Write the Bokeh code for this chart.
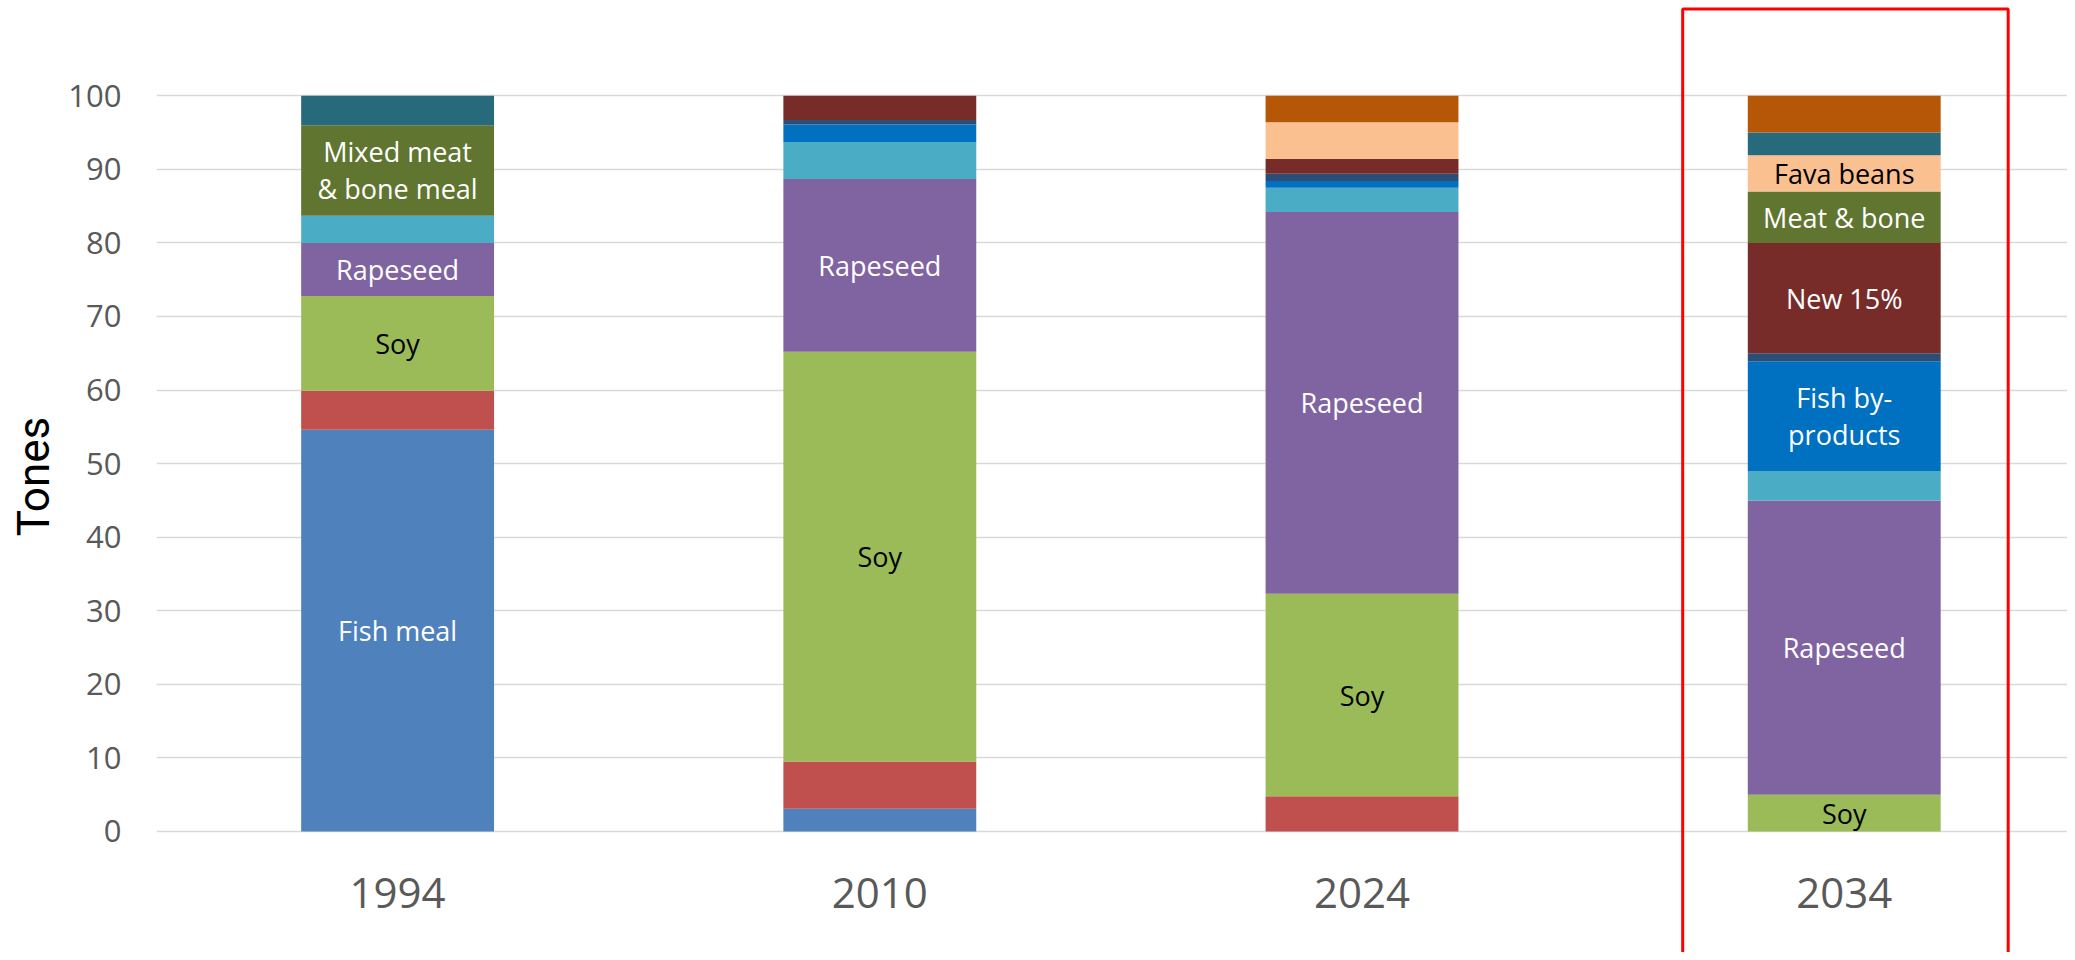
from bokeh.plotting import figure
from bokeh.models import Range1d, FixedTicker, BoxAnnotation, ColumnDataSource
from bokeh.core.properties import value
from bokeh.embed import file_html
from bokeh.resources import INLINE

# ---------------- data ----------------
years = ["1994", "2010", "2024", "2034"]

fish_meal       = [54.6, 3.1, 0.0, 0.0]
red_component   = [5.3, 6.4, 4.8, 0.0]
soy             = [12.9, 55.7, 27.5, 5.0]
rapeseed        = [7.2, 23.5, 51.9, 40.0]
light_blue_comp = [3.7, 5.0, 3.3, 4.0]
fish_byproducts = [0.0, 2.4, 0.9, 14.9]
navy_comp       = [0.0, 0.6, 1.0, 1.1]
new_15          = [0.0, 3.3, 2.0, 15.0]
meat_bone       = [12.3, 0.0, 0.0, 7.0]
fava_beans      = [0.0, 0.0, 5.0, 4.9]
teal_comp       = [4.0, 0.0, 0.0, 3.1]
orange_comp     = [0.0, 0.0, 3.6, 5.0]

series_names = ["fish_meal", "red_component", "soy", "rapeseed", "light_blue_comp",
                "fish_byproducts", "navy_comp", "new_15", "meat_bone", "fava_beans",
                "teal_comp", "orange_comp"]
series_values = [fish_meal, red_component, soy, rapeseed, light_blue_comp,
                 fish_byproducts, navy_comp, new_15, meat_bone, fava_beans,
                 teal_comp, orange_comp]
series_colors = ["#4F81BD", "#C0504D", "#9BBB59", "#8064A2", "#4BACC6",
                 "#0070C0", "#2C4D75", "#772C2A", "#5F7530", "#FAC090",
                 "#276A7C", "#B65708"]

# segment labels
label_years  = ["1994", "1994", "1994", "1994",
                "2010", "2010",
                "2024", "2024",
                "2034", "2034", "2034", "2034", "2034", "2034"]
label_series = ["fish_meal", "soy", "rapeseed", "meat_bone",
                "soy", "rapeseed",
                "soy", "rapeseed",
                "soy", "rapeseed", "fish_byproducts", "new_15", "meat_bone", "fava_beans"]
label_texts  = ["Fish meal", "Soy", "Rapeseed", "Mixed meat\n& bone meal",
                "Soy", "Rapeseed",
                "Soy", "Rapeseed",
                "Soy", "Rapeseed", "Fish by-\nproducts", "New 15%", "Meat & bone", "Fava beans"]
label_colors = ["white", "black", "white", "white",
                "black", "white",
                "black", "white",
                "black", "white", "white", "white", "white", "black"]

y_ticks = list(range(0, 101, 10))

# ---------------- figure ----------------
W, H = 2067, 952
p = figure(width=W, height=H, output_backend="svg", toolbar_location=None,
           x_range=Range1d(-0.5, 3.463), y_range=Range1d(-16.45, 112.95),
           min_border_left=156, min_border_right=0, min_border_top=0, min_border_bottom=0)
p.outline_line_color = None
p.background_fill_color = "white"
p.border_fill_color = "white"
p.xaxis.visible = False
p.xgrid.visible = False

p.ygrid.ticker = FixedTicker(ticks=y_ticks)
p.ygrid.grid_line_color = "#D9D9D9"
p.ygrid.grid_line_width = 1.6

ya = p.yaxis[0]
ya.ticker = FixedTicker(ticks=y_ticks)
ya.axis_line_color = None
ya.major_tick_line_color = None
ya.minor_tick_line_color = None
ya.major_tick_out = 0
ya.major_tick_in = 0
ya.major_label_standoff = 35
ya.major_label_text_font = "Open Sans"
ya.major_label_text_font_size = "31px"
ya.major_label_text_color = "#595959"
ya.axis_label = "Tones"
ya.axis_label_text_font = "Roboto"
ya.axis_label_text_font_size = "44px"
ya.axis_label_text_font_style = "normal"
ya.axis_label_text_color = "black"
ya.axis_label_standoff = 5

# ---------------- stacked bars ----------------
xpos = list(range(len(years)))
data = {"x": xpos}
for n, v in zip(series_names, series_values):
    data[n] = v
src = ColumnDataSource(data)
p.vbar_stack(series_names, x="x", width=0.4, color=series_colors,
             line_color=None, source=src)

# ---------------- segment labels ----------------
lx, ly = [], []
for yr, sn in zip(label_years, label_series):
    i = years.index(yr)
    k = series_names.index(sn)
    base = sum(series_values[j][i] for j in range(k))
    lx.append(i)
    ly.append(base + series_values[k][i] / 2)
lsrc = ColumnDataSource(dict(x=lx, y=ly, text=label_texts, color=label_colors))
p.text(x="x", y="y", text="text", text_color="color", source=lsrc,
       text_align="center", text_baseline="middle",
       text_font=value("Open Sans"), text_font_size="27px", text_line_height=1.0)

# ---------------- category labels ----------------
ysrc = ColumnDataSource(dict(x=xpos, y=[-8.4] * len(years), text=years))
p.text(x="x", y="y", text="text", source=ysrc, text_align="center",
       text_baseline="middle", text_color="#595959",
       text_font=value("Open Sans"), text_font_size="42px")

# ---------------- highlight box around last bar ----------------
hl = len(years) - 1
p.add_layout(BoxAnnotation(left=hl - 0.335, right=hl + 0.34, top=111.8, bottom=-40,
                           fill_alpha=0, line_color="#FF0000", line_alpha=1.0,
                           line_width=3))

open("out.html", "w").write(file_html(p, INLINE))
